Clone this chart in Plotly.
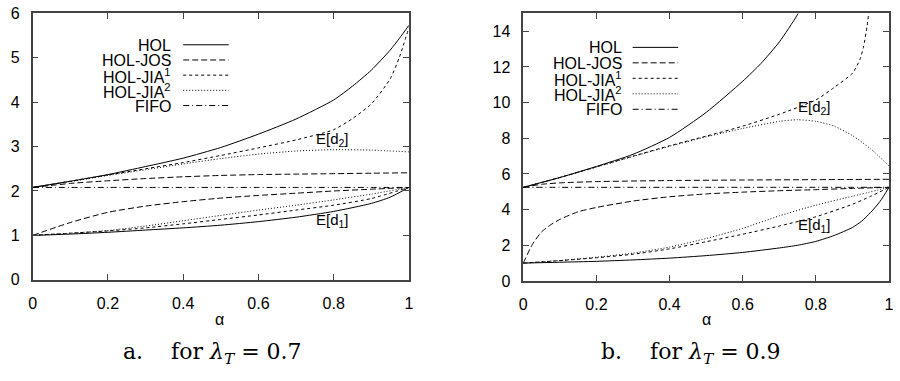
import plotly.graph_objects as go

# ---------------- data ----------------
# Left panel: lambda_T = 0.7
L_ALPHA = [0, 0.1, 0.2, 0.3, 0.4, 0.5, 0.6, 0.7, 0.8, 0.9, 1.0]
L_ALPHA_HI = [0, 0.1, 0.2, 0.3, 0.4, 0.5, 0.6, 0.7, 0.8, 0.85, 0.9, 0.95, 0.975, 1.0]
L_ALPHA_D1 = [0, 0.1, 0.2, 0.3, 0.4, 0.5, 0.6, 0.7, 0.8, 0.9, 0.95, 1.0]

L_HOL_D2 = [2.08, 2.22, 2.37, 2.55, 2.74, 2.98, 3.28, 3.62, 4.05, 4.36, 4.72, 5.17, 5.44, 5.73]
L_JIA1_D2 = [2.08, 2.22, 2.36, 2.50, 2.64, 2.80, 2.97, 3.15, 3.38, 3.63, 3.96, 4.52, 5.02, 5.68]
L_JIA2_D2 = [2.08, 2.21, 2.35, 2.48, 2.61, 2.73, 2.83, 2.90, 2.93, 2.92, 2.88]
L_JOS_D2 = [2.08, 2.17, 2.23, 2.28, 2.32, 2.35, 2.37, 2.38, 2.39, 2.40, 2.41]
L_FIFO = [2.08] * 11

L_HOL_D1 = [1.0, 1.03, 1.07, 1.12, 1.17, 1.23, 1.31, 1.41, 1.54, 1.72, 1.86, 2.08]
L_JOS_D1 = [1.0, 1.29, 1.52, 1.66, 1.76, 1.84, 1.90, 1.95, 2.00, 2.04, 2.08]
L_JIA1_D1 = [1.0, 1.05, 1.10, 1.17, 1.26, 1.36, 1.46, 1.57, 1.68, 1.83, 2.08]
L_JIA2_D1 = [1.0, 1.05, 1.11, 1.21, 1.33, 1.45, 1.57, 1.68, 1.80, 1.93, 2.08]

# Right panel: lambda_T = 0.9
R_ALPHA = [0, 0.1, 0.2, 0.3, 0.4, 0.5, 0.6, 0.7, 0.8, 0.9, 1.0]
R_ALPHA_HOL_D2 = [0, 0.1, 0.2, 0.3, 0.4, 0.5, 0.6, 0.65, 0.7, 0.75, 0.8]
R_HOL_D2 = [5.25, 5.80, 6.42, 7.10, 8.05, 9.45, 11.2, 12.2, 13.4, 14.95, 17.0]
R_ALPHA_JIA1_D2 = [0, 0.1, 0.2, 0.3, 0.4, 0.5, 0.6, 0.7, 0.8, 0.85, 0.9, 0.92, 0.93, 0.94, 0.95]
R_JIA1_D2 = [5.25, 5.80, 6.40, 7.00, 7.58, 8.12, 8.68, 9.35, 10.15, 10.85, 11.65, 12.4, 13.1, 14.3, 16.0]
R_ALPHA_JIA2_D2 = [0, 0.1, 0.2, 0.3, 0.4, 0.5, 0.6, 0.7, 0.75, 0.8, 0.85, 0.9, 0.95, 1.0]
R_JIA2_D2 = [5.25, 5.80, 6.38, 6.98, 7.55, 8.08, 8.55, 8.95, 9.04, 8.95, 8.68, 8.15, 7.40, 6.45]
R_ALPHA_JOS_D2 = [0, 0.05, 0.1, 0.2, 0.4, 0.6, 0.8, 1.0]
R_JOS_D2 = [5.25, 5.42, 5.50, 5.57, 5.63, 5.66, 5.68, 5.70]
R_FIFO = [5.25] * 11

R_ALPHA_HOL_D1 = [0, 0.1, 0.2, 0.3, 0.4, 0.5, 0.6, 0.7, 0.75, 0.8, 0.85, 0.9, 0.925, 0.95, 0.975, 1.0]
R_HOL_D1 = [1.0, 1.05, 1.10, 1.18, 1.28, 1.42, 1.60, 1.85, 2.00, 2.22, 2.55, 3.00, 3.35, 3.85, 4.45, 5.25]
R_ALPHA_JOS_D1 = [0, 0.025, 0.05, 0.075, 0.1, 0.15, 0.2, 0.3, 0.4, 0.5, 0.6, 0.7, 0.8, 0.9, 1.0]
R_JOS_D1 = [1.0, 2.05, 2.75, 3.15, 3.45, 3.88, 4.12, 4.48, 4.72, 4.88, 4.98, 5.06, 5.12, 5.19, 5.25]
R_ALPHA_JIA1_D1 = [0, 0.1, 0.2, 0.3, 0.4, 0.5, 0.6, 0.7, 0.8, 0.9, 0.95, 1.0]
R_JIA1_D1 = [1.0, 1.14, 1.30, 1.50, 1.80, 2.20, 2.62, 3.08, 3.60, 4.30, 4.75, 5.25]
R_JIA2_D1 = [1.0, 1.15, 1.33, 1.56, 1.90, 2.38, 2.95, 3.65, 4.25, 4.75, 5.25]

X_TICKS = [0, 0.2, 0.4, 0.6, 0.8, 1.0]
X_TICK_TEXT = ["0", "0.2", "0.4", "0.6", "0.8", "1"]
L_Y_TICKS = [0, 1, 2, 3, 4, 5, 6]
R_Y_TICKS = [0, 2, 4, 6, 8, 10, 12, 14]

SERIES_NAMES = ["HOL", "HOL-JOS", "HOL-JIA<sup>1</sup>", "HOL-JIA<sup>2</sup>", "FIFO"]

# ---------------- styling ----------------
W, H = 900, 381
SANS = "Liberation Sans, Arial, sans-serif"
SERIF = "DejaVu Serif, Liberation Serif, serif"
DASH = {
    "HOL": "solid",
    "HOL-JOS": "6px,3px",
    "HOL-JIA<sup>1</sup>": "3px,3px",
    "HOL-JIA<sup>2</sup>": "1px,2px",
    "FIFO": "6px,3px,1px,3px",
}


def px_x(x):
    return x / W


def px_y(y):
    return 1 - y / H


fig = go.Figure()


def add(xs, ys, name, xa, ya):
    fig.add_trace(go.Scatter(
        x=xs, y=ys, mode="lines", showlegend=False,
        line=dict(color="black", width=1, dash=DASH[name], shape="spline", smoothing=0.6),
        xaxis=xa, yaxis=ya, hoverinfo="skip"))


# left panel
add(L_ALPHA_HI, L_HOL_D2, "HOL", "x", "y")
add(L_ALPHA_D1, L_HOL_D1, "HOL", "x", "y")
add(L_ALPHA, L_JOS_D2, "HOL-JOS", "x", "y")
add(L_ALPHA, L_JOS_D1, "HOL-JOS", "x", "y")
add(L_ALPHA_HI, L_JIA1_D2, "HOL-JIA<sup>1</sup>", "x", "y")
add(L_ALPHA, L_JIA1_D1, "HOL-JIA<sup>1</sup>", "x", "y")
add(L_ALPHA, L_JIA2_D2, "HOL-JIA<sup>2</sup>", "x", "y")
add(L_ALPHA, L_JIA2_D1, "HOL-JIA<sup>2</sup>", "x", "y")
add(L_ALPHA, L_FIFO, "FIFO", "x", "y")

# right panel
add(R_ALPHA_HOL_D2, R_HOL_D2, "HOL", "x2", "y2")
add(R_ALPHA_HOL_D1, R_HOL_D1, "HOL", "x2", "y2")
add(R_ALPHA_JOS_D2, R_JOS_D2, "HOL-JOS", "x2", "y2")
add(R_ALPHA_JOS_D1, R_JOS_D1, "HOL-JOS", "x2", "y2")
add(R_ALPHA_JIA1_D2, R_JIA1_D2, "HOL-JIA<sup>1</sup>", "x2", "y2")
add(R_ALPHA_JIA1_D1, R_JIA1_D1, "HOL-JIA<sup>1</sup>", "x2", "y2")
add(R_ALPHA_JIA2_D2, R_JIA2_D2, "HOL-JIA<sup>2</sup>", "x2", "y2")
add(R_ALPHA, R_JIA2_D1, "HOL-JIA<sup>2</sup>", "x2", "y2")
add(R_ALPHA, R_FIFO, "FIFO", "x2", "y2")

axis_common = dict(
    showline=True, linecolor="#444", linewidth=1.5, mirror="allticks",
    ticks="inside", ticklen=6, tickcolor="#444", tickwidth=1,
    showgrid=False, zeroline=False,
    tickfont=dict(family=SANS, size=16, color="black"),
    ticklabelstandoff=8, ticklabeloverflow="allow", fixedrange=True,
)

fig.update_layout(
    width=W, height=H, margin=dict(l=0, r=0, t=0, b=0),
    paper_bgcolor="white", plot_bgcolor="white",
    xaxis=dict(domain=[px_x(29), px_x(409)], range=[0, 1], anchor="y",
               tickvals=X_TICKS, ticktext=X_TICK_TEXT, **axis_common),
    yaxis=dict(domain=[px_y(284.5), px_y(5.6)], range=[0, 6], anchor="x",
               tickvals=L_Y_TICKS, **axis_common),
    xaxis2=dict(domain=[px_x(524.5), px_x(894)], range=[0, 1], anchor="y2",
                tickvals=X_TICKS, ticktext=X_TICK_TEXT, **axis_common),
    yaxis2=dict(domain=[px_y(285.7), px_y(5.7)], range=[0, 15], anchor="x2",
                tickvals=R_Y_TICKS, **axis_common),
)

shapes = []
annotations = []


# legends (gnuplot style: text right-aligned, sample line on the right)
def legend(text_right, line_x0, line_x1, y0, step):
    for i, name in enumerate(SERIES_NAMES):
        y = y0 + i * step
        annotations.append(dict(
            x=px_x(text_right), y=px_y(y + 0.5), xref="paper", yref="paper",
            text=name, showarrow=False, xanchor="right", yanchor="middle",
            font=dict(family=SANS, size=16, color="black")))
        shapes.append(dict(
            type="line", xref="paper", yref="paper",
            x0=px_x(line_x0), x1=px_x(line_x1), y0=px_y(y), y1=px_y(y),
            line=dict(color="black", width=1, dash=DASH[name])))


legend(171, 181, 227, 38.5, 15.9)
legend(626, 635, 681, 41.2, 16.2)

# curve labels
for xa, ya, x, y, txt in [
    ("x", "y", 0.797, 3.16, "E[d<sub>2</sub>]"),
    ("x", "y", 0.797, 1.33, "E[d<sub>1</sub>]"),
    ("x2", "y2", 0.797, 9.75, "E[d<sub>2</sub>]"),
    ("x2", "y2", 0.797, 3.12, "E[d<sub>1</sub>]"),
]:
    annotations.append(dict(x=x, y=y, xref=xa, yref=ya, text=txt, showarrow=False,
                            xanchor="center", yanchor="middle",
                            font=dict(family=SANS, size=15, color="black")))

# axis titles
for xc in (218, 710):
    annotations.append(dict(x=px_x(xc), y=px_y(326), xref="paper", yref="paper",
                            text="α", showarrow=False, xanchor="center", yanchor="middle",
                            font=dict(family=SANS, size=16, color="black")))

# captions
NB = "\u00a0"
for xc, lab, val in [(210.5, "a.", "0.7"), (694, "b.", "0.9")]:
    annotations.append(dict(
        x=px_x(xc), y=px_y(362), xref="paper", yref="paper",
        text=f"{lab}{NB * 4}for{NB}<i>λ</i><sub><i>T</i></sub>{NB}={NB}{val}",
        showarrow=False, xanchor="center", yanchor="middle",
        font=dict(family=SERIF, size=22, color="black")))

fig.update_layout(shapes=shapes, annotations=annotations)
fig.write_html("out.html", config={"displayModeBar": False},
               post_script="document.body.style.margin='0';document.body.style.overflow='hidden';")
